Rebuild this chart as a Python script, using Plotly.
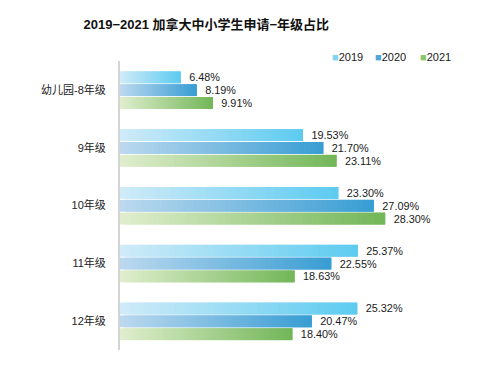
import plotly.graph_objects as go

categories = ["幼儿园-8年级", "9年级", "10年级", "11年级", "12年级"]
years = ["2019", "2020", "2021"]
v2019 = [6.48, 19.53, 23.30, 25.37, 25.32]
v2020 = [8.19, 21.70, 27.09, 22.55, 20.47]
v2021 = [9.91, 23.11, 28.30, 18.63, 18.40]
series = [v2019, v2020, v2021]

# gradient colours (left -> right) per series
grad = [((0xD0, 0xEB, 0xF8), (0x5C, 0xCB, 0xF0)),
        ((0xBC, 0xD9, 0xEF), (0x38, 0x9D, 0xD3)),
        ((0xE0, 0xEE, 0xCE), (0x72, 0xB6, 0x58))]
legend_colors = ["#7fd3f2", "#4ea6d8", "#8cc56f"]
offsets = [-0.32, -0.098, 0.124]
BW = 0.205
NSEG = 48

FONT = "Liberation Sans, Noto Sans CJK SC, Arial"
NUMFONT = "Liberation Sans, Arial"


def mix(c0, c1, t):
    return "rgb(%d,%d,%d)" % tuple(round(a + (b - a) * t) for a, b in zip(c0, c1))


fig = go.Figure()
for si, (name, vals) in enumerate(zip(years, series)):
    c0, c1 = grad[si]
    for k in range(NSEG):
        t = (k + 0.5) / NSEG
        last = k == NSEG - 1
        ext = 1.0 if last else 2.0
        fig.add_trace(go.Bar(
            y=categories,
            x=[v / NSEG * ext for v in vals],
            base=[v * k / NSEG for v in vals],
            orientation="h",
            offset=offsets[si], width=BW,
            marker=dict(color=mix(c0, c1, t), line=dict(width=0)),
            text=[f"\u2002{v:.2f}%" for v in vals] if last else None,
            textposition="outside" if last else "none",
            textfont=dict(size=11, color="#1a1a1a", family=NUMFONT),
            cliponaxis=False, showlegend=False, hoverinfo="skip",
            name=name,
        ))

# legend as annotations
leg_x = [330, 373, 418]
for name, col, x in zip(years, legend_colors, leg_x):
    fig.add_annotation(
        xref="paper", yref="paper",
        x=(x - 120) / (482 - 120 - 34), y=1 + (61 - 57) / (371 - 61 - 21),
        xanchor="left", yanchor="middle", showarrow=False,
        text=f"<span style='color:{col}'>■</span>{name}",
        font=dict(size=11, color="#1a1a1a", family=NUMFONT),
    )

fig.update_layout(
    width=482, height=371,
    margin=dict(l=120, r=34, t=61, b=21, autoexpand=False),
    paper_bgcolor="white", plot_bgcolor="white",
    barmode="overlay",
    showlegend=False,
    title=dict(text="<b>2019−2021 加拿大中小学生申请−年级占比</b>",
               x=0.428, xanchor="center", y=0.933, yanchor="middle",
               font=dict(size=13, color="#111", family=FONT)),
    xaxis=dict(range=[0, 35], visible=False),
    yaxis=dict(autorange="reversed", showline=True, linecolor="#d4d4d4", linewidth=2,
               ticks="", ticklabelstandoff=10, automargin=False,
               tickfont=dict(size=11, color="#222", family=FONT)),
)

fig.write_html("out.html", config={"displayModeBar": False, "staticPlot": True},
               post_script="document.body.style.margin='0';document.body.style.overflow='hidden';")
